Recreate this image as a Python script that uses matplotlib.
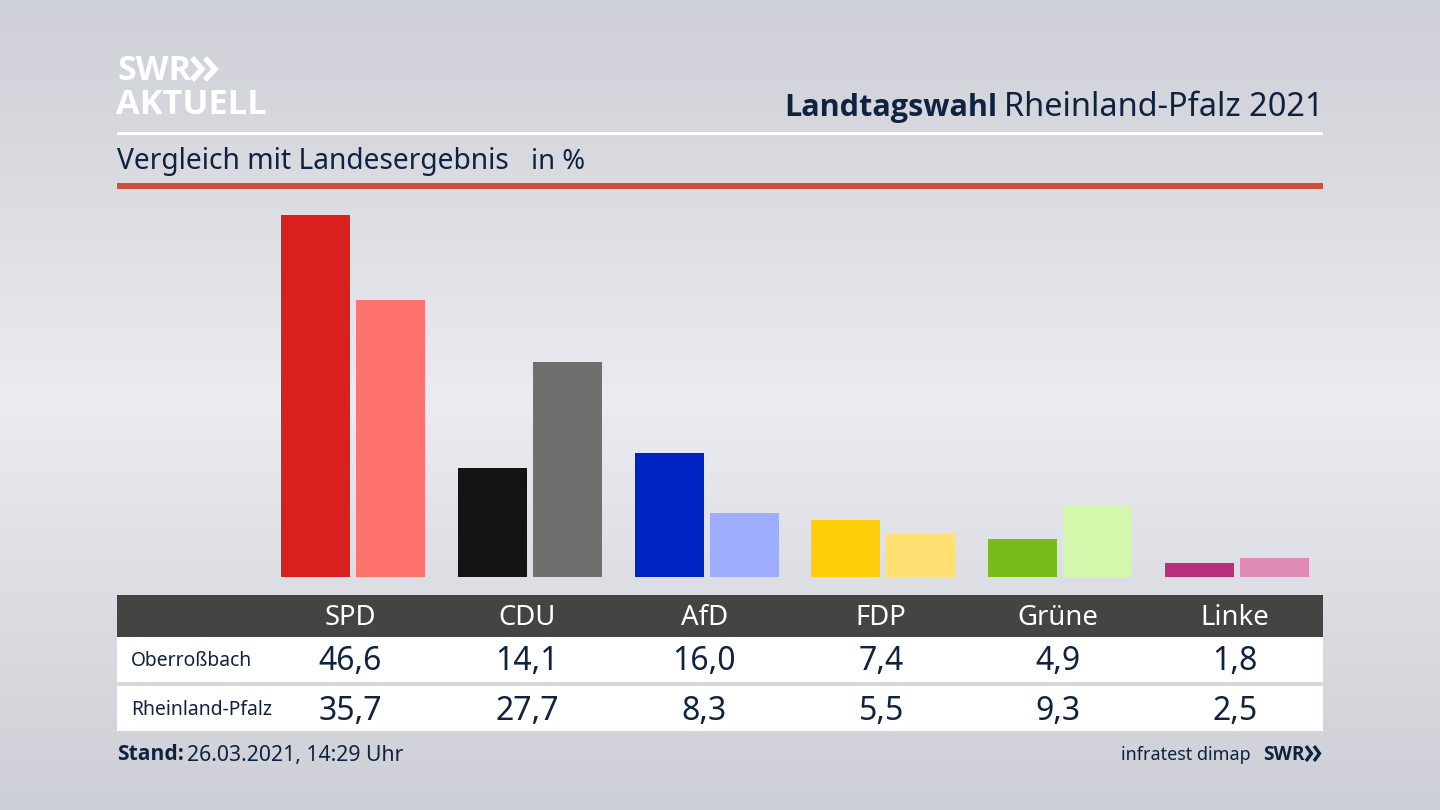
# %% Loading
import numpy as np
import matplotlib.pyplot as plt
from matplotlib.patches import Rectangle

plt.rcParams['font.family'] = ['Noto Sans', 'DejaVu Sans']

# %% Data
parties = ['SPD', 'CDU', 'AfD', 'FDP', 'Grüne', 'Linke']
oberrossbach = [46.6, 14.1, 16.0, 7.4, 4.9, 1.8]
rheinland_pfalz = [35.7, 27.7, 8.3, 5.5, 9.3, 2.5]
colors_local = ['#d8201f', '#141414', '#0023c4', '#ffcd0a', '#78bc1b', '#b82e78']
colors_state = ['#ff736e', '#706f6d', '#9fadff', '#ffe173', '#d5f7ab', '#e08ab8']
row_labels = ['Oberroßbach', 'Rheinland-Pfalz']

W, H = 1440, 810
NAVY = '#0f2240'
BOLD = ['Open Sans', 'DejaVu Sans']


def fs(px):
    # Pixelgroesse in Punkt umrechnen
    return px * 72 / 100


fig = plt.figure(figsize=(W / 100, H / 100), dpi=100)

# %% Background gradient
bg = fig.add_axes([0, 0, 1, 1], zorder=0)
stops_y = [0, 130, 400, 560, 810]
stops_c = [[205, 208, 214], [214, 216, 222], [234, 236, 241], [222, 224, 229], [204, 207, 213]]
yy = np.arange(H)
grad = np.stack([np.interp(yy, stops_y, [c[k] for c in stops_c]) for k in range(3)], axis=1)
bg.imshow(grad[:, None, :] / 255, aspect='auto', extent=[0, W, H, 0])
bg.set_xlim(0, W)
bg.set_ylim(H, 0)
bg.axis('off')

# %% Frame: rules, table bands, texts in pixel coordinates
bg.add_patch(Rectangle((117, 132), 1206, 3, color='white', lw=0))
bg.add_patch(Rectangle((117, 183), 1206, 6, color='#cc5038', lw=0))
bg.add_patch(Rectangle((117, 595), 1206, 42, color='#454442', lw=0))
bg.add_patch(Rectangle((117, 637), 1206, 45, color='white', lw=0))
bg.add_patch(Rectangle((117, 686), 1206, 45, color='white', lw=0))

# Logo
bg.text(117, 71, 'SWR', color='white', fontsize=fs(34), fontweight='bold', family=BOLD, va='center', ha='left')
bg.text(116, 105, 'AKTUELL', color='white', fontsize=fs(34.4), fontweight='bold', family=BOLD, va='center', ha='left')
for x0 in (192, 205):
    bg.plot([x0, x0 + 10, x0], [58, 69, 80], color='white', lw=4, solid_joinstyle='miter', solid_capstyle='butt')

# Title
bg.text(1323, 108, 'Rheinland-Pfalz 2021', color=NAVY, fontsize=fs(32.5), va='center', ha='right')
bg.text(997, 108, 'Landtagswahl', color=NAVY, fontsize=fs(30.6), fontweight='bold', family=BOLD, va='center', ha='right')
bg.text(117, 162, 'Vergleich mit Landesergebnis', color=NAVY, fontsize=fs(28.2), va='center', ha='left')
bg.text(531, 162, 'in %', color=NAVY, fontsize=fs(27.5), va='center', ha='left')

# Footer
bg.text(117, 755, 'Stand:', color=NAVY, fontsize=fs(21), fontweight='bold', family=BOLD, va='center', ha='left')
bg.text(187, 755, '26.03.2021, 14:29 Uhr', color=NAVY, fontsize=fs(21.2), va='center', ha='left')
bg.text(1251, 755, 'infratest dimap', color=NAVY, fontsize=fs(18), va='center', ha='right')
bg.text(1263, 755, 'SWR', color=NAVY, fontsize=fs(19), fontweight='bold', family=BOLD, va='center', ha='left')
for x0 in (1306, 1314):
    bg.plot([x0, x0 + 5.5, x0], [746, 753.5, 761], color=NAVY, lw=2.4, solid_joinstyle='miter', solid_capstyle='butt')

# %% Bars
ax = fig.add_axes([0, (H - 577) / H, 1, (577 - 189) / H], zorder=1)
ax.patch.set_alpha(0)
x = np.arange(len(parties))
px_per_group = 176.8
ax.set_xlim(-353 / px_per_group, (W - 353) / px_per_group)
ax.set_ylim(0, 388 / 7.76)
ax.bar(x - 37.5 / px_per_group, oberrossbach, width=69 / px_per_group, color=colors_local)
ax.bar(x + 37.5 / px_per_group, rheinland_pfalz, width=69 / px_per_group, color=colors_state)
ax.axis('off')

# %% Table text
for i, party in enumerate(parties):
    xc = 350.5 + 176.9 * i
    bg.text(xc, 618, party, color='white', fontsize=fs(27.5), va='center', ha='center')
    bg.text(xc, 662, f'{oberrossbach[i]:.1f}'.replace('.', ','), color=NAVY, fontsize=fs(32), va='center', ha='center')
    bg.text(xc, 711, f'{rheinland_pfalz[i]:.1f}'.replace('.', ','), color=NAVY, fontsize=fs(32), va='center', ha='center')
for y, label in zip((661, 710), row_labels):
    bg.text(131, y, label, color=NAVY, fontsize=fs(19.3), va='center', ha='left')

fig.savefig('out.png', dpi=100)
